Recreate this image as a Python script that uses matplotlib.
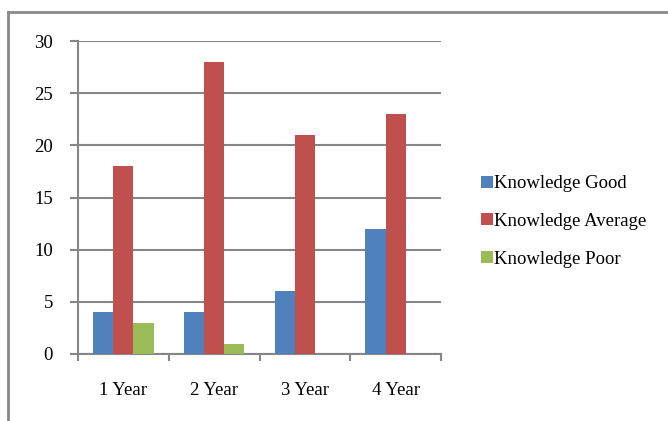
import matplotlib
matplotlib.use("Agg")
import matplotlib.pyplot as plt
from matplotlib.patches import Patch
from matplotlib.lines import Line2D
import numpy as np

categories = ["1 Year", "2 Year", "3 Year", "4 Year"]
series_names = ["Knowledge Good", "Knowledge Average", "Knowledge Poor"]
good = [4, 4, 6, 12]
average = [18, 28, 21, 23]
poor = [3, 1, 0, 0]
y_ticks = [0, 5, 10, 15, 20, 25, 30]

colors = ["#4F81BD", "#C0504D", "#9BBB59"]
grid_gray = "#868686"
font_size = 13.5

plt.rcParams["font.family"] = ["Liberation Serif", "DejaVu Serif"]

fig = plt.figure(figsize=(6.68, 4.21), dpi=100)
ax = fig.add_axes([78 / 668, 1 - 354 / 421, (441 - 78) / 668, (354 - 41) / 421])

x = np.arange(len(categories))
bar_w = 1 / 4.5
for i, (vals, col) in enumerate(zip([good, average, poor], colors)):
    ax.bar(x + (i - 1) * bar_w, vals, width=bar_w, color=col,
           linewidth=0, zorder=3)

ax.set_xlim(-0.5, len(categories) - 0.5)
ax.set_ylim(0, 30)
ax.set_yticks(y_ticks)
ax.yaxis.grid(True, color=grid_gray, linewidth=1.5, zorder=0)
ax.set_axisbelow(True)

ax.set_xticks(x)
ax.set_xticklabels(categories)
ax.set_xticks(np.arange(-0.5, len(categories)), minor=True)
ax.tick_params(axis="x", which="major", length=0, pad=20, labelsize=font_size)
ax.tick_params(axis="x", which="minor", length=5, width=1.5, color=grid_gray)
ax.tick_params(axis="y", length=6, width=1.5, color=grid_gray, pad=12, labelsize=font_size)

for side in ["top", "right"]:
    ax.spines[side].set_visible(False)
for side in ["left", "bottom"]:
    ax.spines[side].set_color(grid_gray)
    ax.spines[side].set_linewidth(1.5)

# chart frame edges
fig.add_artist(Line2D([8 / 668, 1.0], [1 - 12 / 421, 1 - 12 / 421],
                      color="#8A8A8A", linewidth=2, transform=fig.transFigure))
fig.add_artist(Line2D([8 / 668, 8 / 668], [0, 1 - 12 / 421],
                      color="#8A8A8A", linewidth=2, transform=fig.transFigure))

handles = [Patch(facecolor=c, edgecolor="none") for c in colors]
fig.legend(handles, series_names, loc="upper left",
           bbox_to_anchor=(472 / 668, 1 - 166 / 421), frameon=False,
           fontsize=font_size, handlelength=0.6, handleheight=0.6,
           handletextpad=0.05, labelspacing=1.1, borderpad=0)

fig.savefig("out.png", dpi=100)
